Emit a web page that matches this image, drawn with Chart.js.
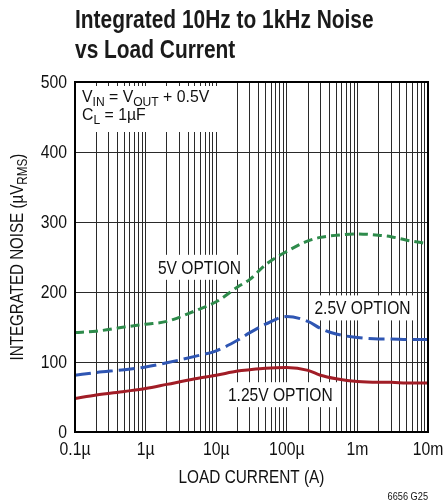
<!DOCTYPE html>
<html>
<head>
<meta charset="utf-8">
<script src="https://cdn.jsdelivr.net/npm/chart.js@4.4.1/dist/chart.umd.min.js"></script>
<style>
  html, body { margin: 0; padding: 0; background: #fff; }
  #wrap { width: 443px; height: 504px; position: relative; }
</style>
</head>
<body>
<div id="wrap"><canvas id="noiseChart"></canvas></div>
<script>
// load current (A) and integrated noise (uVrms)
const loadCurrent = [1e-7, 2e-7, 5e-7, 1e-6, 2e-6, 5e-6, 1e-5, 2e-5, 3e-5, 5e-5, 1e-4, 2e-4, 3e-4, 5e-4, 1e-3, 2e-3, 3e-3, 5e-3, 1e-2];
const noise5V = [142, 144, 150, 154, 158, 173, 186, 207, 218, 239, 258, 273, 278, 281, 283, 281, 279, 274, 269];
const noise2V5 = [81, 85, 89, 93, 99, 108, 116, 131, 142, 154, 165, 158, 148, 140, 135, 133, 133, 132, 132];
const noise1V25 = [48, 53, 58, 62, 68, 76, 81, 87, 89, 91, 92, 88, 81, 76, 72, 71, 71, 70, 70];

const decadeValues = [1e-7, 1e-6, 1e-5, 1e-4, 1e-3, 1e-2];
const decadeLabels = ["0.1µ", "1µ", "10µ", "100µ", "1m", "10m"];
const yTicks = [0, 100, 200, 300, 400, 500];

const optionLabels = ["5V OPTION", "2.5V OPTION", "1.25V OPTION"];

// no condensed face installed, so Liberation Sans gets squeezed horizontally
const FONT = '"Liberation Sans", Arial, sans-serif';

// where the option labels sit, in data units
const labelAt = [
  { x: 5.8e-6, y: 236 },
  { x: 1.18e-3, y: 178 },
  { x: 8.1e-5, y: 54 },
];

function narrowText(ctx, s, x, y, size, sx, opts = {}) {
  ctx.save();
  ctx.font = (opts.bold ? "bold " : "") + size + "px " + FONT;
  ctx.textAlign = opts.align || "left";
  ctx.textBaseline = opts.baseline || "alphabetic";
  ctx.fillStyle = opts.color || "#111";
  const w = ctx.measureText(s).width * sx;
  ctx.translate(x, y);
  ctx.scale(sx, 1);
  ctx.fillText(s, 0, 0);
  ctx.restore();
  return w;
}

function textWidth(ctx, s, size, sx) {
  ctx.save();
  ctx.font = size + "px " + FONT;
  const w = ctx.measureText(s).width * sx;
  ctx.restore();
  return w;
}

// parts: [text, isSubscript]
function richText(ctx, parts, x, y, size, sx) {
  let cx = x;
  parts.forEach(([t, sub]) => {
    const sz = sub ? Math.round(size * 0.76) : size;
    cx += narrowText(ctx, t, cx, y + (sub ? size * 0.24 : 0), sz, sx);
  });
  return cx - x;
}

function richWidth(ctx, parts, size, sx) {
  let w = 0;
  parts.forEach(([t, sub]) => {
    w += textWidth(ctx, t, sub ? Math.round(size * 0.76) : size, sx);
  });
  return w;
}

const decorPlugin = {
  id: "decor",
  beforeDraw(chart) {
    const ctx = chart.ctx;
    ctx.save();
    ctx.fillStyle = "#fff";
    ctx.fillRect(0, 0, chart.width, chart.height);
    ctx.restore();
  },
  afterDatasetsDraw(chart) {
    const ctx = chart.ctx;
    const area = chart.chartArea;
    const xs = chart.scales.x;
    const ys = chart.scales.y;

    // frame
    ctx.save();
    ctx.strokeStyle = "#000";
    ctx.lineWidth = 2;
    ctx.strokeRect(area.left, area.top, area.right - area.left, area.bottom - area.top);

    // conditions box, top left
    ctx.fillStyle = "#fff";
    ctx.fillRect(area.left + 1, area.top + 4, 157, 46);
    ctx.restore();
    richText(ctx, [["V", 0], ["IN", 1], [" = V", 0], ["OUT", 1], [" + 0.5V", 0]], area.left + 7, area.top + 20, 17, 0.93);
    richText(ctx, [["C", 0], ["L", 1], [" = 1µF", 0]], area.left + 7, area.top + 38, 17, 0.93);

    // option labels with white backing
    optionLabels.forEach((txt, i) => {
      const px = xs.getPixelForValue(labelAt[i].x);
      const py = ys.getPixelForValue(labelAt[i].y);
      const w = textWidth(ctx, txt, 19, 0.82);
      ctx.save();
      ctx.fillStyle = "#fff";
      ctx.fillRect(px - w / 2 - 5, py - 12, w + 10, 25);
      ctx.restore();
      narrowText(ctx, txt, px, py + 7, 19, 0.82, { align: "center" });
    });

    // tick labels
    yTicks.forEach((v) => {
      narrowText(ctx, String(v), area.left - 8, ys.getPixelForValue(v) + 6, 17.5, 0.9, { align: "right" });
    });
    decadeValues.forEach((d, i) => {
      narrowText(ctx, decadeLabels[i], xs.getPixelForValue(d), area.bottom + 23, 17.5, 0.9, { align: "center" });
    });

    // chart title
    narrowText(ctx, "Integrated 10Hz to 1kHz Noise", area.left, 28, 25.5, 0.82, { bold: true, color: "#1a1a1a" });
    narrowText(ctx, "vs Load Current", area.left, 58, 25.5, 0.82, { bold: true, color: "#1a1a1a" });

    // x axis title
    narrowText(ctx, "LOAD CURRENT (A)", (area.left + area.right) / 2, 483, 18.5, 0.83, { align: "center" });

    // y axis title with subscript, rotated
    const yParts = [["INTEGRATED NOISE (µV", 0], ["RMS", 1], [")", 0]];
    const tw = richWidth(ctx, yParts, 18, 0.84);
    ctx.save();
    ctx.translate(23, (area.top + area.bottom) / 2);
    ctx.rotate(-Math.PI / 2);
    richText(ctx, yParts, -tw / 2, 0, 18, 0.84);
    ctx.restore();

    // figure code
    narrowText(ctx, "6656 G25", area.right, 500, 10, 0.92, { align: "right" });
  },
};

const ctx = document.getElementById("noiseChart").getContext("2d");
const chart = new Chart(ctx, {
  type: "line",
  data: {
    labels: loadCurrent,
    datasets: [
      {
        label: "5V OPTION",
        data: loadCurrent.map((x, i) => ({ x, y: noise5V[i] })),
        borderColor: "#2e8b4b",
        borderWidth: 3,
        borderDash: [9, 5],
        pointRadius: 0,
        cubicInterpolationMode: "monotone",
      },
      {
        label: "2.5V OPTION",
        data: loadCurrent.map((x, i) => ({ x, y: noise2V5[i] })),
        borderColor: "#2f56b3",
        borderWidth: 3,
        borderDash: [16, 6],
        pointRadius: 0,
        cubicInterpolationMode: "monotone",
      },
      {
        label: "1.25V OPTION",
        data: loadCurrent.map((x, i) => ({ x, y: noise1V25[i] })),
        borderColor: "#a11d26",
        borderWidth: 3,
        pointRadius: 0,
        cubicInterpolationMode: "monotone",
      },
    ],
  },
  options: {
    responsive: true,
    maintainAspectRatio: false,
    animation: false,
    events: [],
    layout: {
      padding: { left: 0, top: 82, right: 15, bottom: 0 },
    },
    plugins: {
      legend: { display: false },
      tooltip: { enabled: false },
    },
    scales: {
      x: {
        type: "logarithmic",
        min: 1e-7,
        max: 1e-2,
        afterBuildTicks: (scale) => {
          const ticks = [];
          decadeValues.forEach((d, i) => {
            if (i === decadeValues.length - 1) {
              ticks.push({ value: d });
              return;
            }
            for (let k = 1; k <= 9; k++) ticks.push({ value: d * k });
          });
          scale.ticks = ticks;
        },
        afterFit: (scale) => {
          scale.height = 72;
        },
        grid: {
          color: "#2a2a2a",
          lineWidth: 1,
          drawTicks: false,
        },
        border: { color: "#000", width: 2 },
        ticks: { display: false },
      },
      y: {
        type: "linear",
        min: 0,
        max: 500,
        afterBuildTicks: (scale) => {
          scale.ticks = yTicks.map((v) => ({ value: v }));
        },
        afterFit: (scale) => {
          scale.width = 75;
        },
        grid: {
          color: "#2a2a2a",
          lineWidth: 1,
          drawTicks: false,
        },
        border: { color: "#000", width: 2 },
        ticks: { display: false },
      },
    },
  },
  plugins: [decorPlugin],
});
</script>
</body>
</html>
